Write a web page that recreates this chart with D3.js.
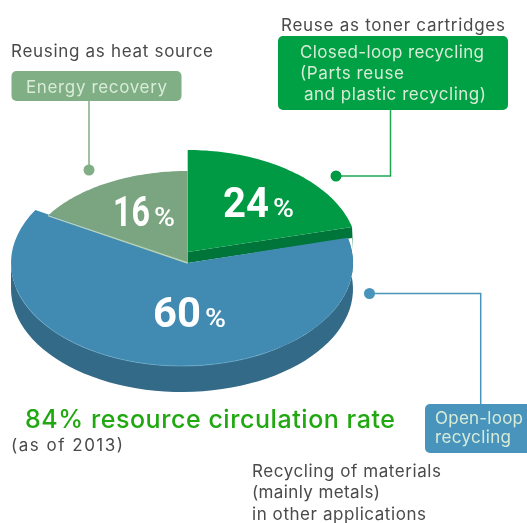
<!DOCTYPE html>
<html lang="en">
<head>
    <meta charset="UTF-8">
    <title>Resource circulation rate</title>
    <style>
        html, body { margin: 0; padding: 0; background: #fff; overflow: hidden; }
        svg { display: block; filter: blur(0.4px); }
        svg text { font-family: Inter, 'Liberation Sans', Arial, sans-serif; }
    </style>
    <script src="https://d3js.org/d3.v7.min.js"></script>
</head>
<body>
    <svg width="527" height="523"></svg>
    <script>
        // slice order runs clockwise from 12 o'clock
        const sliceKeys = ["closed", "open", "energy"];
        const sliceValues = [24, 60, 16];
        const titleText = "84% resource circulation rate";
        const dateText = "(as of 2013)";
        const closedNote = "Reuse as toner cartridges";
        const closedBoxLines = ["Closed-loop recycling", "(Parts reuse", "and plastic recycling)"];
        const energyNote = "Reusing as heat source";
        const energyBoxLines = ["Energy recovery"];
        const openBoxLines = ["Open-loop", "recycling"];
        const openNoteLines = ["Recycling of materials", "(mainly metals)", "in other applications"];

        const width = 527, height = 523;
        const svg = d3.select("svg").attr("width", width).attr("height", height);

        const deg = Math.PI / 180;
        const pie = d3.pie().sort(null).value(d => d);
        const arcs = pie(sliceValues);

        // the artwork is in perspective, so pie angles get nudged to the drawn ones
        const warp = d3.scaleLinear()
            .domain([0, 86.4 * deg, 302.4 * deg, 360 * deg])
            .range([0, 75.8 * deg, 301 * deg, 360 * deg]);

        const shape = {
            closed: { apex: [187.7, 252], cx: 187.7, cy: 252, rx: 169.5, ry: 102, depth: 11, top: "#009a44", side: "#00753a" },
            open: { apex: [187.7, 263], cx: 182, cy: 263, rx: 171, ry: 103, depth: 26, top: "#418bb3", side: "#336a88" },
            energy: { apex: [187.7, 263], cx: 187.7, cy: 263, rx: 163, ry: 92, depth: 0, top: "#7ba580", side: "#7ba580" }
        };

        const rim = (s, a) => [s.cx + s.rx * Math.sin(a), s.cy - s.ry * Math.cos(a)];
        const line = d3.line();
        const sample = (a0, a1) => d3.range(0, 61).map(i => a0 + (a1 - a0) * i / 60);

        const layer = svg.append("g");
        const slices = {};
        arcs.forEach((d, i) => {
            const s = shape[sliceKeys[i]];
            slices[sliceKeys[i]] = { s, a0: warp(d.startAngle), a1: warp(d.endAngle) };
        });

        // blue wall
        {
            const { s, a0 } = slices.open;
            const front = sample(a0, 270 * deg).map(a => rim(s, a));
            const back = front.slice().reverse().map(p => [p[0], p[1] + s.depth]);
            layer.append("path").attr("d", line(front.concat(back)) + "Z").attr("fill", s.side);
        }
        // green inner wall + outer sliver
        {
            const { s, a1 } = slices.closed;
            const e = rim(s, a1);
            layer.append("path")
                .attr("d", line([s.apex, e, [e[0] + 1, e[1] + s.depth + 12], [e[0], e[1] + s.depth], [s.apex[0], s.apex[1] + s.depth]]) + "Z")
                .attr("fill", s.side);
        }
        // tops
        ["closed", "energy", "open"].forEach(k => {
            const { s, a0, a1 } = slices[k];
            layer.append("path")
                .attr("d", line([s.apex].concat(sample(a0, a1).map(a => rim(s, a)))) + "Z")
                .attr("fill", s.top);
        });
        // rim highlight on the blue and the light seam next to the grey slice
        {
            const { s } = slices.open;
            layer.append("path")
                .attr("d", line(sample(150 * deg, 255 * deg).map(a => rim(s, a))))
                .attr("fill", "none").attr("stroke", "#6aa9c8").attr("stroke-width", 1).attr("stroke-opacity", 0.7);
            layer.append("path")
                .attr("d", line([s.apex, rim(slices.energy.s, slices.energy.a0)]))
                .attr("fill", "none").attr("stroke", "#b9d2b4").attr("stroke-width", 1.5);
        }

        // squeeze a label to a target width with a scale, DIN-ish numbers are narrow
        function squeezed(x, y, t, size, weight, w) {
            const el = svg.append("text")
                .attr("fill", "#fff")
                .style("font-family", "Roboto, sans-serif")
                .style("font-size", size + "px").style("font-weight", weight)
                .text(t);
            const k = w / el.node().getComputedTextLength();
            el.attr("transform", `translate(${x},${y}) scale(${k},1)`);
        }

        // percent labels on the slices: [x, baseline, number width, gap to %]
        const labelPos = { closed: [223, 217, 46, 50], open: [153, 327, 48, 52], energy: [113, 226, 37, 41] };
        arcs.forEach((d, i) => {
            const p = labelPos[sliceKeys[i]];
            squeezed(p[0], p[1], d.value, 42, 700, p[2]);
            squeezed(p[0] + p[3], p[1], "%", 25, 500, 21);
        });

        // callouts
        function leader(points, color, dot) {
            svg.append("path")
                .attr("d", line(points))
                .attr("fill", "none").attr("stroke", color).attr("stroke-width", 1.5);
            svg.append("circle")
                .attr("cx", points[0][0]).attr("cy", points[0][1]).attr("r", 5.5)
                .attr("fill", dot || color);
        }
        leader([[89, 170], [89, 101]], "#80ae85");
        leader([[336, 176], [390.5, 176], [390.5, 110]], "#1fa650", "#009a44");
        leader([[369.5, 293.5], [480.7, 293.5], [480.7, 405]], "#4894bc");

        // the reference face is wider than anything installed, so lines are fitted to its widths
        function put(x, y, t, size, color, w, weight) {
            svg.append("text")
                .attr("x", x).attr("y", y)
                .attr("fill", color)
                .attr("textLength", w).attr("lengthAdjust", "spacing")
                .style("font-size", size + "px")
                .style("font-weight", weight || 400)
                .text(t);
        }
        function box(x, y, w, h, color, lines, xs, ys, ws) {
            svg.append("rect")
                .attr("x", x).attr("y", y).attr("width", w).attr("height", h)
                .attr("rx", 5).attr("fill", color);
            lines.forEach((t, i) => put(xs[i], ys[i], t, 17, "#d8ecd8", ws[i]));
        }
        box(11.5, 71, 170, 30, "#80ae85", energyBoxLines, [26], [93], [141]);
        box(278, 36, 230, 74, "#00a044", closedBoxLines, [300, 300, 304], [58, 79, 100], [184, 104, 182]);
        box(425, 404, 110, 49, "#4894bc", openBoxLines, [435, 435], [424, 443], [88, 76]);

        put(281, 31, closedNote, 17, "#4a4a4a", 224);
        put(11, 57, energyNote, 17, "#4a4a4a", 202);
        put(11, 451, dateText, 17, "#4a4a4a", 112);
        openNoteLines.forEach((t, i) => put(252, [477, 498, 520][i], t, 17, "#4a4a4a", [189, 128, 174][i]));

        put(25, 428, titleText, 25, "#1fa80f", 370, 500);
    </script>
</body>
</html>
